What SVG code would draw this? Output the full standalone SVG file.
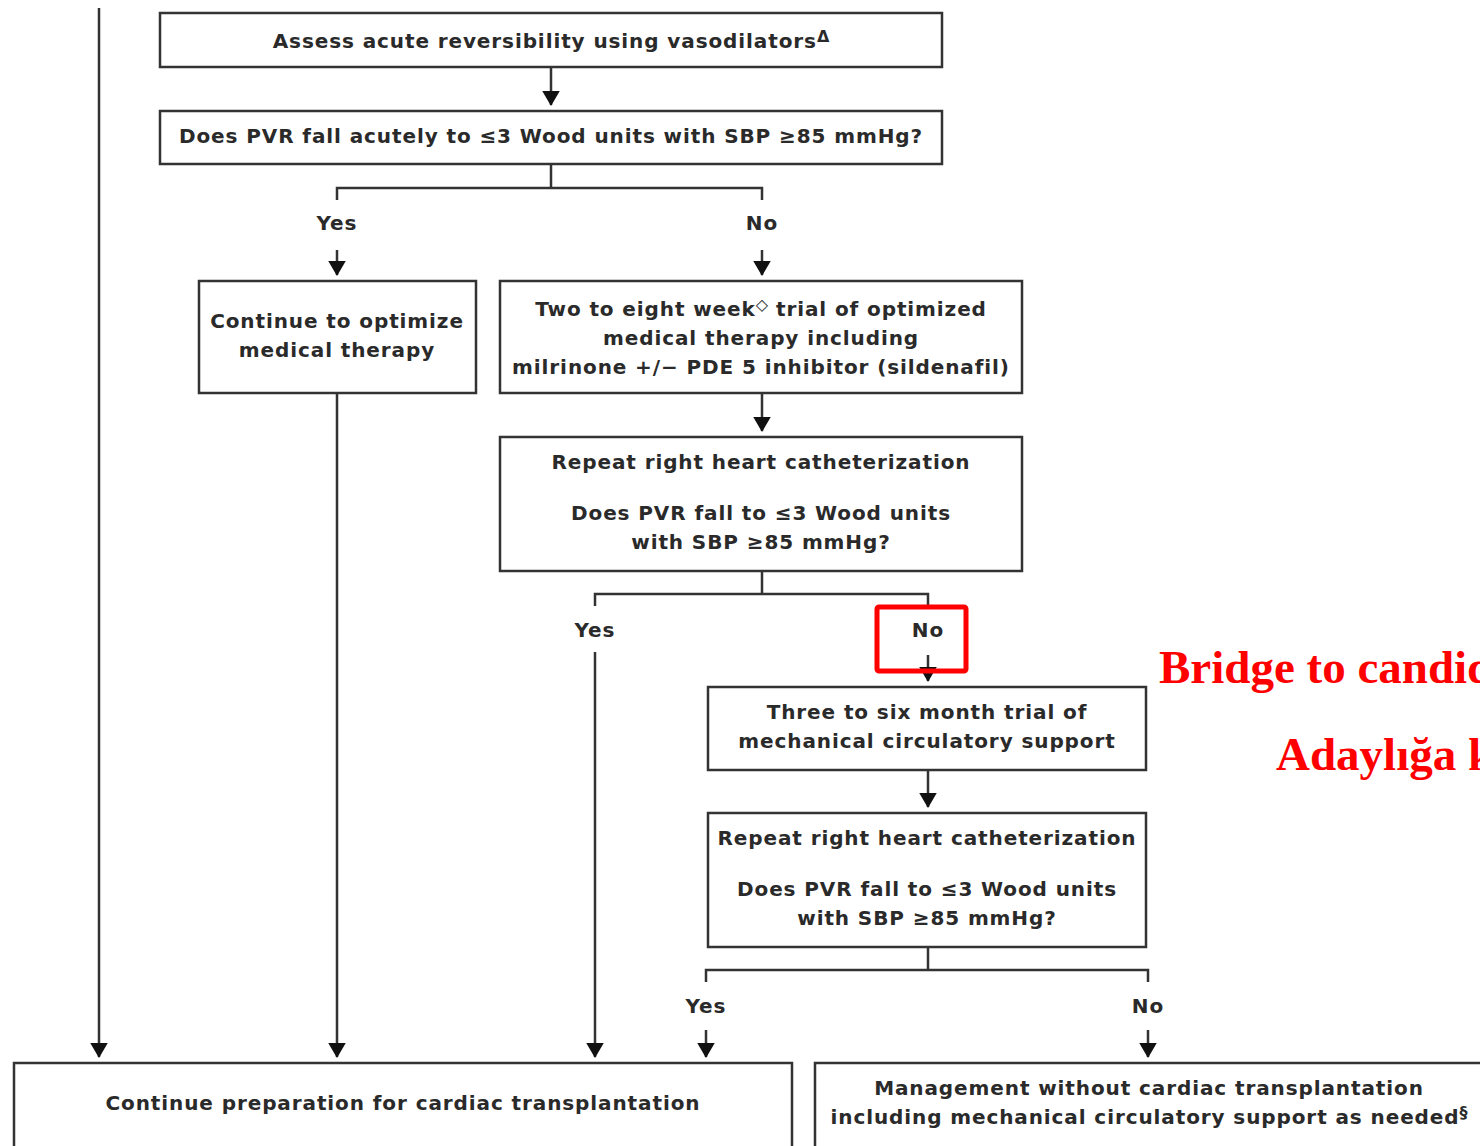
<svg xmlns="http://www.w3.org/2000/svg" width="1480" height="1146" viewBox="0 0 1480 1146">
  <style>
    .box { fill: #ffffff; stroke: #333333; stroke-width: 2.5; }
    .wire { fill: none; stroke: #333333; stroke-width: 2.5; }
    .t { font-family: "DejaVu Sans", Verdana, sans-serif; font-size: 20px; font-weight: bold; letter-spacing: 0.9px; fill: #2a2a2a; text-anchor: middle; }
    .sup { font-size: 16px; letter-spacing: 0; }
    .red { font-family: "Liberation Serif", "Times New Roman", serif; font-size: 47px; font-weight: bold; fill: #ff0000; }
  </style>
  <defs>
    <marker id="arrow" markerWidth="6" markerHeight="7" refX="5.6" refY="3.5" orient="auto" markerUnits="strokeWidth">
      <path d="M0,0 L6,3.5 L0,7 Z" fill="#111111"/>
    </marker>
  </defs>

  <rect width="1480" height="1146" fill="#ffffff"/>

  <!-- connectors -->
  <g id="connectors">
    <line class="wire" x1="99" y1="8" x2="99" y2="1057" marker-end="url(#arrow)"/>
    <line class="wire" x1="551" y1="67" x2="551" y2="105" marker-end="url(#arrow)"/>
    <polyline class="wire" points="551,164 551,188"/>
    <polyline class="wire" points="337,200 337,188 762,188 762,200"/>
    <line class="wire" x1="337" y1="250" x2="337" y2="275" marker-end="url(#arrow)"/>
    <line class="wire" x1="762" y1="250" x2="762" y2="275" marker-end="url(#arrow)"/>
    <line class="wire" x1="337" y1="393" x2="337" y2="1057" marker-end="url(#arrow)"/>
    <line class="wire" x1="762" y1="393" x2="762" y2="431" marker-end="url(#arrow)"/>
    <polyline class="wire" points="762,571 762,594"/>
    <polyline class="wire" points="595,606 595,594 928,594 928,606"/>
    <line class="wire" x1="595" y1="652" x2="595" y2="1057" marker-end="url(#arrow)"/>
    <line class="wire" x1="928" y1="655" x2="928" y2="681" marker-end="url(#arrow)"/>
    <line class="wire" x1="928" y1="770" x2="928" y2="807" marker-end="url(#arrow)"/>
    <polyline class="wire" points="928,947 928,970"/>
    <polyline class="wire" points="706,982 706,970 1148,970 1148,982"/>
    <line class="wire" x1="706" y1="1030" x2="706" y2="1057" marker-end="url(#arrow)"/>
    <line class="wire" x1="1148" y1="1030" x2="1148" y2="1057" marker-end="url(#arrow)"/>
  </g>

  <!-- branch labels -->
  <g id="labels">
    <text class="t" x="337" y="230">Yes</text>
    <text class="t" x="762" y="230">No</text>
    <text class="t" x="595" y="637">Yes</text>
    <text class="t" x="928" y="637">No</text>
    <text class="t" x="706" y="1013">Yes</text>
    <text class="t" x="1148" y="1013">No</text>
  </g>

  <g id="assess">
    <rect class="box" x="160" y="13" width="782" height="54"/>
    <text class="t" x="551" y="48">Assess acute reversibility using vasodilators<tspan class="sup" dy="-6">Δ</tspan></text>
  </g>

  <g id="pvr-acute">
    <rect class="box" x="160" y="111" width="782" height="53"/>
    <text class="t" x="551" y="143">Does PVR fall acutely to ≤3 Wood units with SBP ≥85 mmHg?</text>
  </g>

  <g id="optimize">
    <rect class="box" x="199" y="281" width="277" height="112"/>
    <text class="t" x="337" y="328">Continue to optimize</text>
    <text class="t" x="337" y="357">medical therapy</text>
  </g>

  <g id="trial-weeks">
    <rect class="box" x="500" y="281" width="522" height="112"/>
    <text class="t" x="761" y="316">Two to eight week<tspan class="sup" dy="-6">◇</tspan><tspan dy="6"> trial of optimized</tspan></text>
    <text class="t" x="761" y="345">medical therapy including</text>
    <text class="t" x="761" y="374">milrinone +/− PDE 5 inhibitor (sildenafil)</text>
  </g>

  <g id="rhc-1">
    <rect class="box" x="500" y="437" width="522" height="134"/>
    <text class="t" x="761" y="469">Repeat right heart catheterization</text>
    <text class="t" x="761" y="520">Does PVR fall to ≤3 Wood units</text>
    <text class="t" x="761" y="549">with SBP ≥85 mmHg?</text>
  </g>

  <g id="highlight">
    <rect x="877" y="607" width="89" height="64" rx="2" fill="none" stroke="#ff0000" stroke-width="5"/>
  </g>

  <g id="mcs-trial">
    <rect class="box" x="708" y="687" width="438" height="83"/>
    <text class="t" x="927" y="719">Three to six month trial of</text>
    <text class="t" x="927" y="748">mechanical circulatory support</text>
  </g>

  <g id="rhc-2">
    <rect class="box" x="708" y="813" width="438" height="134"/>
    <text class="t" x="927" y="845">Repeat right heart catheterization</text>
    <text class="t" x="927" y="896">Does PVR fall to ≤3 Wood units</text>
    <text class="t" x="927" y="925">with SBP ≥85 mmHg?</text>
  </g>

  <g id="continue-prep">
    <rect class="box" x="14" y="1063" width="778" height="90"/>
    <text class="t" x="403" y="1110">Continue preparation for cardiac transplantation</text>
  </g>

  <g id="management">
    <rect class="box" x="815" y="1063" width="680" height="90"/>
    <text class="t" x="1149" y="1095">Management without cardiac transplantation</text>
    <text class="t" x="1149" y="1124">including mechanical circulatory support as needed<tspan class="sup" dy="-6">§</tspan></text>
  </g>

  <g id="notes">
    <text class="red" x="1159" y="683">Bridge to candidacy</text>
    <text class="red" x="1276" y="770">Adaylığa köprü</text>
  </g>
</svg>
